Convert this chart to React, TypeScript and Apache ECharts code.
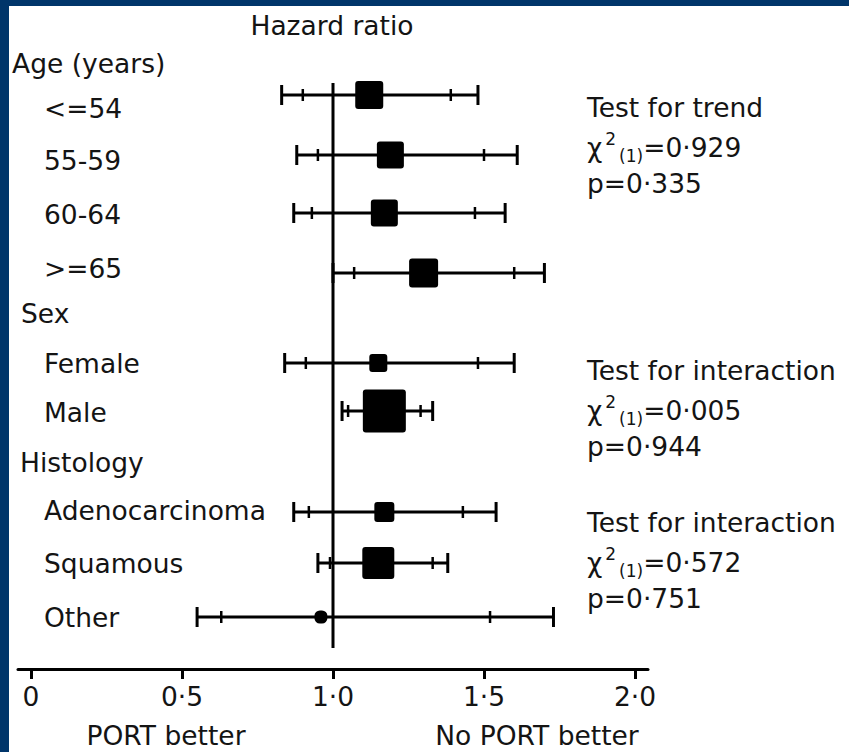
import React, { useEffect, useRef } from "react";
import * as echarts from "echarts";

// ---- data ----
const subgroups = ["<=54", "55-59", "60-64", ">=65", "Female", "Male", "Adenocarcinoma", "Squamous", "Other"];
const hazardRatio = [1.12, 1.19, 1.17, 1.30, 1.15, 1.17, 1.17, 1.15, 0.96];
const ci95Low = [0.90, 0.95, 0.93, 1.07, 0.91, 1.05, 0.92, 0.99, 0.63];
const ci95High = [1.39, 1.50, 1.47, 1.60, 1.48, 1.29, 1.43, 1.33, 1.52];
const ci99Low = [0.83, 0.88, 0.87, 1.00, 0.84, 1.03, 0.87, 0.95, 0.55];
const ci99High = [1.48, 1.61, 1.57, 1.70, 1.60, 1.33, 1.54, 1.38, 1.73];
const weight = [28, 27, 27, 29, 18, 43, 20, 32, 13];

const leftLabels = ["Age (years)", "<=54", "55-59", "60-64", ">=65", "Sex", "Female", "Male", "Histology", "Adenocarcinoma", "Squamous", "Other"];
const isHeader = [true, false, false, false, false, true, false, false, true, false, false, false];
const xTicks = [0, 0.5, 1, 1.5, 2];
const tickLabels = ["0", "0·5", "1·0", "1·5", "2·0"];
const referenceHR = 1;

const tests = [
  { title: "Test for trend", chi: "0·929", p: "0·335" },
  { title: "Test for interaction", chi: "0·005", p: "0·944" },
  { title: "Test for interaction", chi: "0·572", p: "0·751" },
];

// ---- layout (row slots on the vertical axis) ----
const markerRow = [1.52, 2.72, 3.88, 5.08, 6.88, 7.84, 9.86, 10.88, 11.96];
const labelRow = [0.88, 1.78, 2.82, 3.9, 4.98, 5.88, 6.88, 7.86, 8.86, 9.82, 10.88, 11.96];
const headerX = [12, 0, 0, 0, 0, 21, 0, 0, 20, 0, 0, 0];
const refLineSpan = [1.28, 12.58];
const testTop = [107, 370, 522];

const FONT = "DejaVu Sans";
const FS = 26.5;
const INK = "#141414";

export default function App() {
  const ref = useRef<HTMLDivElement>(null);
  useEffect(() => {
    document.body.style.margin = "0";
    document.body.style.overflow = "hidden";
    document.documentElement.style.overflow = "hidden";
    const chart = echarts.init(ref.current!, null, { renderer: "svg" });

    const forestData = subgroups.map((name, i) => ({
      name,
      value: [hazardRatio[i], ci99Low[i], ci99High[i], ci95Low[i], ci95High[i], markerRow[i], weight[i]],
    }));

    const txt = (text: string, x: number, y: number, align: string) => ({
      type: "text", x, y,
      style: { text, font: `${FS}px '${FONT}'`, fill: INK, textAlign: align, textVerticalAlign: "middle" },
    });

    const graphics: any[] = [
      { type: "rect", shape: { x: 0, y: 0, width: 849, height: 6 }, style: { fill: "#00356a" }, silent: true },
      { type: "rect", shape: { x: 0, y: 0, width: 9, height: 752 }, style: { fill: "#00356a" }, silent: true },
      txt("Hazard ratio", 332, 25, "center"),
      txt("PORT better", 166, 735, "center"),
      txt("No PORT better", 537, 735, "center"),
    ];
    tests.forEach((t, k) => {
      const y0 = testTop[k];
      graphics.push(txt(t.title, 587, y0, "left"));
      graphics.push({
        type: "text", x: 587, y: y0 + 40,
        style: {
          text: `{m|χ}{sup|2}{sub|(1)}{m|=${t.chi}}`,
          textAlign: "left", textVerticalAlign: "middle", fill: INK,
          rich: {
            m: { fontSize: FS, fontFamily: FONT, lineHeight: 34, verticalAlign: "middle", fill: INK },
            sup: { fontSize: 17, fontFamily: FONT, lineHeight: 18, verticalAlign: "top", fill: INK, padding: [0, 3, 0, 3] },
            sub: { fontSize: 17, fontFamily: FONT, lineHeight: 18, verticalAlign: "bottom", fill: INK },
          },
        },
      });
      graphics.push(txt(`p=${t.p}`, 587, y0 + 76, "left"));
    });

    chart.setOption({
      animation: false,
      backgroundColor: "#ffffff",
      textStyle: { fontFamily: FONT },
      grid: { left: 18, right: 201, top: 19, bottom: 83, containLabel: false },
      xAxis: {
        type: "value",
        position: "bottom",
        min: -0.043,
        max: 2.043,
        splitLine: { show: false },
        axisLine: { show: true, onZero: false, lineStyle: { color: "#000", width: 3 } },
        axisTick: { show: true, customValues: xTicks, length: 10, lineStyle: { color: "#000", width: 3 } },
        axisLabel: {
          show: true,
          customValues: xTicks,
          margin: 14,
          fontSize: FS,
          fontFamily: FONT,
          color: INK,
          formatter: (v: number) => {
            const i = xTicks.findIndex((t) => Math.abs(t - v) < 1e-6);
            return i >= 0 ? tickLabels[i] : "";
          },
        },
      },
      yAxis: { type: "value", inverse: true, min: 0, max: 13, show: false },
      series: [
        {
          type: "custom",
          name: "reference",
          clip: false,
          encode: { x: 0, y: [1, 2] },
          data: [[referenceHR, refLineSpan[0], refLineSpan[1]]],
          renderItem: (params: any, api: any) => {
            const a = api.coord([api.value(0), api.value(1)]);
            const b = api.coord([api.value(0), api.value(2)]);
            return {
              type: "line",
              shape: { x1: a[0], y1: a[1], x2: b[0], y2: b[1] },
              style: { stroke: "#000", lineWidth: 3 },
            };
          },
        },
        {
          type: "custom",
          name: "forest",
          clip: false,
          encode: { x: [0, 1, 2, 3, 4], y: 5 },
          data: forestData,
          renderItem: (params: any, api: any) => {
            const yv = api.value(5);
            const c = api.coord([api.value(0), yv]);
            const lo99 = api.coord([api.value(1), yv])[0];
            const hi99 = api.coord([api.value(2), yv])[0];
            const lo95 = api.coord([api.value(3), yv])[0];
            const hi95 = api.coord([api.value(4), yv])[0];
            const s = api.value(6);
            const y = c[1];
            const stroke = { stroke: "#000", lineWidth: 3 };
            const tick = { stroke: "#000", lineWidth: 2.5 };
            return {
              type: "group",
              children: [
                { type: "line", shape: { x1: lo99, y1: y, x2: hi99, y2: y }, style: stroke },
                { type: "line", shape: { x1: lo99, y1: y - 10, x2: lo99, y2: y + 10 }, style: stroke },
                { type: "line", shape: { x1: hi99, y1: y - 10, x2: hi99, y2: y + 10 }, style: stroke },
                { type: "line", shape: { x1: lo95, y1: y - 6, x2: lo95, y2: y + 6 }, style: tick },
                { type: "line", shape: { x1: hi95, y1: y - 6, x2: hi95, y2: y + 6 }, style: tick },
                {
                  type: "rect",
                  shape: { x: c[0] - s / 2, y: y - s / 2, width: s, height: s, r: s < 15 ? s / 2.4 : 3 },
                  style: { fill: "#000" },
                },
              ],
            };
          },
        },
        {
          type: "custom",
          name: "labels",
          clip: false,
          encode: { y: 0 },
          data: leftLabels.map((name, i) => ({ name, value: [labelRow[i], i] })),
          renderItem: (params: any, api: any) => {
            const i = api.value(1);
            const y = api.coord([0, api.value(0)])[1];
            return {
              type: "text",
              x: isHeader[i] ? headerX[i] : 44,
              y,
              style: {
                text: leftLabels[i],
                font: `${FS}px '${FONT}'`,
                fill: INK,
                textAlign: "left",
                textVerticalAlign: "middle",
              },
            };
          },
        },
      ],
      graphic: graphics,
    });

    return () => chart.dispose();
  }, []);
  return <div ref={ref} style={{ width: 849, height: 752 }} />;
}
